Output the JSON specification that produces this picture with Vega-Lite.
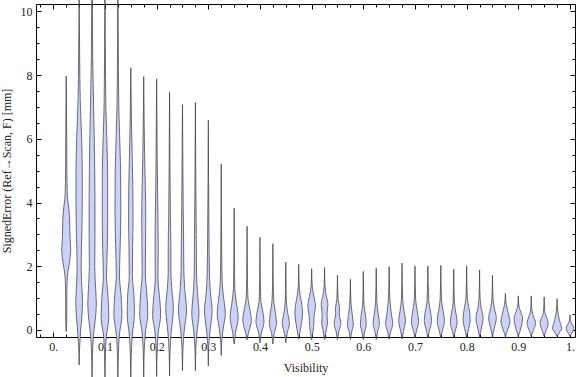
{
"$schema": "https://vega.github.io/schema/vega-lite/v6.json",
"width": 539, "height": 333,
"autosize": "none",
"padding": {"left": 36, "top": 4, "right": 1, "bottom": 40},
"config": {
  "view": {"stroke": "#000", "strokeWidth": 1},
  "axis": {"domain": false, "grid": false, "labelFont": "Liberation Serif", "titleFont": "Liberation Serif", "labelFontSize": 12, "titleFontSize": 12, "labelColor": "#222", "titleColor": "#222", "titleFontWeight": "normal", "tickColor": "#000", "tickWidth": 1, "labelFlush": false, "labelOverlap": false, "labelBound": false}
},
"resolve": {"axis": {"x": "independent", "y": "independent"}},
"layer": [
{
  "data": {"values": [
{"v":0.025,"e":-0.05,"w":0},{"v":0.025,"e":0.3,"w":0.12},{"v":0.025,"e":1.2,"w":0.15},{"v":0.025,"e":1.67,"w":0.25},{"v":0.025,"e":2.1,"w":0.7},{"v":0.025,"e":2.5,"w":1.0},{"v":0.025,"e":2.9,"w":0.85},{"v":0.025,"e":3.5,"w":0.75},{"v":0.025,"e":3.9,"w":0.5},{"v":0.025,"e":4.2,"w":0.25},{"v":0.025,"e":5,"w":0.15},{"v":0.025,"e":6.2,"w":0.1},{"v":0.025,"e":7.97,"w":0},
{"v":0.05,"e":-1.1,"w":0},{"v":0.05,"e":-0.5,"w":0.12},{"v":0.05,"e":0,"w":0.35},{"v":0.05,"e":0.4,"w":0.6},{"v":0.05,"e":0.9,"w":0.75},{"v":0.05,"e":1.5,"w":0.55},{"v":0.05,"e":2.0,"w":0.45},{"v":0.05,"e":3,"w":0.6},{"v":0.05,"e":4,"w":0.7},{"v":0.05,"e":5,"w":0.7},{"v":0.05,"e":6,"w":0.55},{"v":0.05,"e":7.2,"w":0.25},{"v":0.05,"e":8.5,"w":0.12},{"v":0.05,"e":11,"w":0},
{"v":0.075,"e":-1.8,"w":0},{"v":0.075,"e":-0.8,"w":0.1},{"v":0.075,"e":-0.2,"w":0.3},{"v":0.075,"e":0.3,"w":0.7},{"v":0.075,"e":0.8,"w":0.95},{"v":0.075,"e":1.3,"w":0.8},{"v":0.075,"e":2,"w":0.6},{"v":0.075,"e":3,"w":0.65},{"v":0.075,"e":4,"w":0.65},{"v":0.075,"e":5,"w":0.6},{"v":0.075,"e":6,"w":0.5},{"v":0.075,"e":7,"w":0.35},{"v":0.075,"e":8.5,"w":0.15},{"v":0.075,"e":10,"w":0.08},{"v":0.075,"e":12,"w":0},
{"v":0.1,"e":-1.8,"w":0},{"v":0.1,"e":-0.8,"w":0.1},{"v":0.1,"e":-0.2,"w":0.3},{"v":0.1,"e":0.4,"w":0.85},{"v":0.1,"e":1.0,"w":0.7},{"v":0.1,"e":1.7,"w":0.35},{"v":0.1,"e":2.5,"w":0.5},{"v":0.1,"e":3.5,"w":0.6},{"v":0.1,"e":4.8,"w":0.6},{"v":0.1,"e":5.8,"w":0.45},{"v":0.1,"e":7,"w":0.2},{"v":0.1,"e":9,"w":0.08},{"v":0.1,"e":12,"w":0},
{"v":0.125,"e":-1.7,"w":0},{"v":0.125,"e":-0.8,"w":0.1},{"v":0.125,"e":-0.2,"w":0.3},{"v":0.125,"e":0.5,"w":0.9},{"v":0.125,"e":1.1,"w":0.7},{"v":0.125,"e":1.7,"w":0.35},{"v":0.125,"e":2.6,"w":0.5},{"v":0.125,"e":3.8,"w":0.65},{"v":0.125,"e":5.0,"w":0.6},{"v":0.125,"e":6,"w":0.4},{"v":0.125,"e":7,"w":0.2},{"v":0.125,"e":9,"w":0.08},{"v":0.125,"e":11.5,"w":0},
{"v":0.15,"e":-1.6,"w":0},{"v":0.15,"e":-0.8,"w":0.1},{"v":0.15,"e":-0.2,"w":0.3},{"v":0.15,"e":0.5,"w":0.8},{"v":0.15,"e":1.1,"w":0.7},{"v":0.15,"e":1.7,"w":0.35},{"v":0.15,"e":2.6,"w":0.4},{"v":0.15,"e":3.5,"w":0.5},{"v":0.15,"e":4.5,"w":0.45},{"v":0.15,"e":5.5,"w":0.3},{"v":0.15,"e":6.5,"w":0.15},{"v":0.15,"e":8.23,"w":0},
{"v":0.175,"e":-1.5,"w":0},{"v":0.175,"e":-0.7,"w":0.1},{"v":0.175,"e":-0.1,"w":0.35},{"v":0.175,"e":0.5,"w":0.9},{"v":0.175,"e":1.1,"w":0.7},{"v":0.175,"e":1.8,"w":0.35},{"v":0.175,"e":2.6,"w":0.4},{"v":0.175,"e":3.5,"w":0.45},{"v":0.175,"e":4.5,"w":0.35},{"v":0.175,"e":5.5,"w":0.2},{"v":0.175,"e":6.5,"w":0.1},{"v":0.175,"e":7.95,"w":0},
{"v":0.2,"e":-1.46,"w":0},{"v":0.2,"e":-0.7,"w":0.1},{"v":0.2,"e":-0.1,"w":0.35},{"v":0.2,"e":0.5,"w":0.9},{"v":0.2,"e":1.1,"w":0.6},{"v":0.2,"e":1.6,"w":0.3},{"v":0.2,"e":2.5,"w":0.35},{"v":0.2,"e":3.5,"w":0.3},{"v":0.2,"e":4.5,"w":0.2},{"v":0.2,"e":5.5,"w":0.12},{"v":0.2,"e":7.88,"w":0},
{"v":0.225,"e":-1.44,"w":0},{"v":0.225,"e":-0.7,"w":0.1},{"v":0.225,"e":-0.1,"w":0.35},{"v":0.225,"e":0.7,"w":0.85},{"v":0.225,"e":1.3,"w":0.5},{"v":0.225,"e":1.8,"w":0.3},{"v":0.225,"e":2.6,"w":0.3},{"v":0.225,"e":3.5,"w":0.2},{"v":0.225,"e":5,"w":0.1},{"v":0.225,"e":7.46,"w":0},
{"v":0.25,"e":-1.28,"w":0},{"v":0.25,"e":-0.6,"w":0.1},{"v":0.25,"e":0,"w":0.4},{"v":0.25,"e":0.6,"w":0.9},{"v":0.25,"e":1.3,"w":0.5},{"v":0.25,"e":1.9,"w":0.3},{"v":0.25,"e":2.8,"w":0.25},{"v":0.25,"e":4,"w":0.15},{"v":0.25,"e":7.07,"w":0},
{"v":0.275,"e":-1.28,"w":0},{"v":0.275,"e":-0.6,"w":0.1},{"v":0.275,"e":0,"w":0.4},{"v":0.275,"e":0.5,"w":0.8},{"v":0.275,"e":1.2,"w":0.45},{"v":0.275,"e":1.8,"w":0.25},{"v":0.275,"e":3,"w":0.2},{"v":0.275,"e":4.5,"w":0.1},{"v":0.275,"e":7.14,"w":0},
{"v":0.3,"e":-1.13,"w":0},{"v":0.3,"e":-0.5,"w":0.1},{"v":0.3,"e":0,"w":0.4},{"v":0.3,"e":0.6,"w":0.85},{"v":0.3,"e":1.2,"w":0.45},{"v":0.3,"e":1.8,"w":0.25},{"v":0.3,"e":3,"w":0.15},{"v":0.3,"e":6.58,"w":0},
{"v":0.325,"e":-0.8,"w":0},{"v":0.325,"e":-0.3,"w":0.15},{"v":0.325,"e":0.1,"w":0.5},{"v":0.325,"e":0.5,"w":0.9},{"v":0.325,"e":1.0,"w":0.55},{"v":0.325,"e":1.4,"w":0.25},{"v":0.325,"e":2.2,"w":0.12},{"v":0.325,"e":5.21,"w":0},
{"v":0.35,"e":-0.44,"w":0},{"v":0.35,"e":-0.1,"w":0.3},{"v":0.35,"e":0.4,"w":0.9},{"v":0.35,"e":0.9,"w":0.45},{"v":0.35,"e":1.3,"w":0.15},{"v":0.35,"e":2,"w":0.08},{"v":0.35,"e":3.82,"w":0},
{"v":0.375,"e":-0.31,"w":0},{"v":0.375,"e":-0.1,"w":0.3},{"v":0.375,"e":0.3,"w":0.95},{"v":0.375,"e":0.7,"w":0.55},{"v":0.375,"e":1.0,"w":0.2},{"v":0.375,"e":1.6,"w":0.08},{"v":0.375,"e":3.26,"w":0},
{"v":0.4,"e":-0.41,"w":0},{"v":0.4,"e":-0.1,"w":0.3},{"v":0.4,"e":0.26,"w":0.9},{"v":0.4,"e":0.6,"w":0.6},{"v":0.4,"e":0.9,"w":0.2},{"v":0.4,"e":1.5,"w":0.08},{"v":0.4,"e":2.91,"w":0},
{"v":0.425,"e":-0.44,"w":0},{"v":0.425,"e":-0.1,"w":0.3},{"v":0.425,"e":0.21,"w":0.8},{"v":0.425,"e":0.6,"w":0.5},{"v":0.425,"e":0.9,"w":0.2},{"v":0.425,"e":1.5,"w":0.07},{"v":0.425,"e":2.71,"w":0},
{"v":0.45,"e":-0.4,"w":0},{"v":0.45,"e":-0.1,"w":0.3},{"v":0.45,"e":0.2,"w":0.8},{"v":0.45,"e":0.55,"w":0.4},{"v":0.45,"e":0.85,"w":0.15},{"v":0.45,"e":1.3,"w":0.06},{"v":0.45,"e":2.13,"w":0},
{"v":0.475,"e":-0.29,"w":0},{"v":0.475,"e":-0.05,"w":0.3},{"v":0.475,"e":0.2,"w":0.6},{"v":0.475,"e":0.5,"w":0.85},{"v":0.475,"e":0.8,"w":0.7},{"v":0.475,"e":1.1,"w":0.3},{"v":0.475,"e":1.4,"w":0.1},{"v":0.475,"e":2.06,"w":0},
{"v":0.5,"e":-0.31,"w":0},{"v":0.5,"e":-0.05,"w":0.3},{"v":0.5,"e":0.2,"w":0.5},{"v":0.5,"e":0.45,"w":0.55},{"v":0.5,"e":0.75,"w":0.85},{"v":0.5,"e":1.05,"w":0.5},{"v":0.5,"e":1.35,"w":0.15},{"v":0.5,"e":1.92,"w":0},
{"v":0.525,"e":-0.3,"w":0},{"v":0.525,"e":-0.05,"w":0.3},{"v":0.525,"e":0.25,"w":0.65},{"v":0.525,"e":0.5,"w":0.55},{"v":0.525,"e":0.8,"w":0.75},{"v":0.525,"e":1.1,"w":0.35},{"v":0.525,"e":1.4,"w":0.1},{"v":0.525,"e":1.96,"w":0},
{"v":0.55,"e":-0.3,"w":0},{"v":0.55,"e":-0.05,"w":0.3},{"v":0.55,"e":0.21,"w":0.75},{"v":0.55,"e":0.5,"w":0.4},{"v":0.55,"e":0.7,"w":0.45},{"v":0.55,"e":0.95,"w":0.15},{"v":0.55,"e":1.72,"w":0},
{"v":0.575,"e":-0.3,"w":0},{"v":0.575,"e":-0.05,"w":0.3},{"v":0.575,"e":0.16,"w":0.65},{"v":0.575,"e":0.45,"w":0.45},{"v":0.575,"e":0.8,"w":0.15},{"v":0.575,"e":1.59,"w":0},
{"v":0.6,"e":-0.3,"w":0},{"v":0.6,"e":-0.05,"w":0.3},{"v":0.6,"e":0.16,"w":0.65},{"v":0.6,"e":0.5,"w":0.45},{"v":0.6,"e":0.8,"w":0.15},{"v":0.6,"e":1.84,"w":0},
{"v":0.625,"e":-0.3,"w":0},{"v":0.625,"e":-0.05,"w":0.3},{"v":0.625,"e":0.2,"w":0.7},{"v":0.625,"e":0.5,"w":0.45},{"v":0.625,"e":0.85,"w":0.15},{"v":0.625,"e":1.94,"w":0},
{"v":0.65,"e":-0.29,"w":0},{"v":0.65,"e":-0.05,"w":0.35},{"v":0.65,"e":0.2,"w":0.8},{"v":0.65,"e":0.5,"w":0.5},{"v":0.65,"e":0.9,"w":0.2},{"v":0.65,"e":1.3,"w":0.08},{"v":0.65,"e":1.99,"w":0},
{"v":0.675,"e":-0.28,"w":0},{"v":0.675,"e":-0.05,"w":0.3},{"v":0.675,"e":0.3,"w":0.75},{"v":0.675,"e":0.6,"w":0.45},{"v":0.675,"e":0.95,"w":0.15},{"v":0.675,"e":2.1,"w":0},
{"v":0.7,"e":-0.25,"w":0},{"v":0.7,"e":-0.05,"w":0.3},{"v":0.7,"e":0.26,"w":0.8},{"v":0.7,"e":0.6,"w":0.5},{"v":0.7,"e":0.95,"w":0.15},{"v":0.7,"e":2.01,"w":0},
{"v":0.725,"e":-0.25,"w":0},{"v":0.725,"e":-0.05,"w":0.3},{"v":0.725,"e":0.3,"w":0.8},{"v":0.725,"e":0.6,"w":0.55},{"v":0.725,"e":0.9,"w":0.2},{"v":0.725,"e":2.01,"w":0},
{"v":0.75,"e":-0.25,"w":0},{"v":0.75,"e":-0.05,"w":0.3},{"v":0.75,"e":0.28,"w":0.8},{"v":0.75,"e":0.6,"w":0.5},{"v":0.75,"e":0.95,"w":0.15},{"v":0.75,"e":2.03,"w":0},
{"v":0.775,"e":-0.22,"w":0},{"v":0.775,"e":-0.05,"w":0.3},{"v":0.775,"e":0.25,"w":0.75},{"v":0.775,"e":0.55,"w":0.45},{"v":0.775,"e":0.85,"w":0.15},{"v":0.775,"e":1.91,"w":0},
{"v":0.8,"e":-0.22,"w":0},{"v":0.8,"e":-0.05,"w":0.3},{"v":0.8,"e":0.35,"w":0.8},{"v":0.8,"e":0.7,"w":0.5},{"v":0.8,"e":1.0,"w":0.15},{"v":0.8,"e":2.01,"w":0},
{"v":0.825,"e":-0.22,"w":0},{"v":0.825,"e":0,"w":0.3},{"v":0.825,"e":0.37,"w":0.8},{"v":0.825,"e":0.7,"w":0.35},{"v":0.825,"e":1.0,"w":0.12},{"v":0.825,"e":1.88,"w":0},
{"v":0.85,"e":-0.22,"w":0},{"v":0.85,"e":0,"w":0.3},{"v":0.85,"e":0.37,"w":0.85},{"v":0.85,"e":0.7,"w":0.4},{"v":0.85,"e":1.0,"w":0.12},{"v":0.85,"e":1.72,"w":0},
{"v":0.875,"e":-0.21,"w":0},{"v":0.875,"e":-0.05,"w":0.35},{"v":0.875,"e":0.26,"w":1.0},{"v":0.875,"e":0.55,"w":0.6},{"v":0.875,"e":0.8,"w":0.2},{"v":0.875,"e":1.15,"w":0},
{"v":0.9,"e":-0.21,"w":0},{"v":0.9,"e":-0.05,"w":0.35},{"v":0.9,"e":0.37,"w":0.95},{"v":0.9,"e":0.6,"w":0.45},{"v":0.9,"e":0.75,"w":0.15},{"v":0.9,"e":1.07,"w":0},
{"v":0.925,"e":-0.2,"w":0},{"v":0.925,"e":-0.05,"w":0.35},{"v":0.925,"e":0.21,"w":0.95},{"v":0.925,"e":0.45,"w":0.45},{"v":0.925,"e":0.6,"w":0.15},{"v":0.925,"e":1.07,"w":0},
{"v":0.95,"e":-0.2,"w":0},{"v":0.95,"e":-0.05,"w":0.35},{"v":0.95,"e":0.21,"w":0.9},{"v":0.95,"e":0.45,"w":0.4},{"v":0.95,"e":0.55,"w":0.15},{"v":0.95,"e":1.04,"w":0},
{"v":0.975,"e":-0.2,"w":0},{"v":0.975,"e":-0.1,"w":0.4},{"v":0.975,"e":0.05,"w":1.0},{"v":0.975,"e":0.3,"w":0.55},{"v":0.975,"e":0.6,"w":0.15},{"v":0.975,"e":0.98,"w":0},
{"v":1.0,"e":-0.2,"w":0},{"v":1.0,"e":-0.1,"w":0.4},{"v":1.0,"e":0.05,"w":0.85},{"v":1.0,"e":0.2,"w":0.4},{"v":1.0,"e":0.3,"w":0.1},{"v":1.0,"e":0.47,"w":0}
  ]},
  "transform": [
    {"calculate": "datum.v - datum.w * 0.0087", "as": "lo"},
    {"calculate": "datum.v + datum.w * 0.0087", "as": "hi"}
  ],
  "mark": {"type": "area", "orient": "horizontal", "interpolate": "monotone", "fill": "#ccd2f7", "fillOpacity": 1, "stroke": "#3a3a3a", "strokeWidth": 0.9, "strokeOpacity": 0.8},
  "encoding": {
    "y": {"field": "e", "type": "quantitative", "scale": {"domain": [-0.22, 10.23], "nice": false, "zero": false},
          "axis": {"orient": "left", "values": [0,2,4,6,8,10], "ticks": false, "labelPadding": 4, "title": "SignedError (Ref\u2192Scan, F) [mm]", "titlePadding": 7}},
    "x": {"field": "lo", "type": "quantitative", "stack": null, "scale": {"domain": [-0.0335, 1.0097], "nice": false, "zero": false},
          "axis": {"orient": "bottom", "values": [0,0.1,0.2,0.3,0.4,0.5,0.6,0.7,0.8,0.9,1], "ticks": false, "labelPadding": 4, "labelExpr": "datum.value == 0 ? '0.' : datum.value == 1 ? '1.' : format(datum.value, '.1f')", "title": "Visibility", "titlePadding": 10}},
    "x2": {"field": "hi"},
    "detail": {"field": "v", "type": "nominal"}
  }
},
{
  "data": {"values": [{"v": 0, "e": 0}]},
  "mark": {"type": "point", "opacity": 0},
  "encoding": {
    "x": {"field": "v", "type": "quantitative", "scale": {"domain": [-0.0335, 1.0097], "nice": false, "zero": false},
          "axis": {"orient": "bottom", "values": [-0.025,0,0.025,0.05,0.075,0.1,0.125,0.15,0.175,0.2,0.225,0.25,0.275,0.3,0.325,0.35,0.375,0.4,0.425,0.45,0.475,0.5,0.525,0.55,0.575,0.6,0.625,0.65,0.675,0.7,0.725,0.75,0.775,0.8,0.825,0.85,0.875,0.9,0.925,0.95,0.975,1], "labels": false, "tickSize": -3, "title": null}},
    "y": {"field": "e", "type": "quantitative", "scale": {"domain": [-0.22, 10.23], "nice": false, "zero": false},
          "axis": {"orient": "left", "values": [0,0.5,1,1.5,2,2.5,3,3.5,4,4.5,5,5.5,6,6.5,7,7.5,8,8.5,9,9.5,10], "labels": false, "tickSize": -3, "title": null}}
  }
},
{
  "data": {"values": [{"v": 0, "e": 0}]},
  "mark": {"type": "point", "opacity": 0},
  "encoding": {
    "x": {"field": "v", "type": "quantitative", "scale": {"domain": [-0.0335, 1.0097], "nice": false, "zero": false},
          "axis": {"orient": "top", "values": [-0.025,0,0.025,0.05,0.075,0.1,0.125,0.15,0.175,0.2,0.225,0.25,0.275,0.3,0.325,0.35,0.375,0.4,0.425,0.45,0.475,0.5,0.525,0.55,0.575,0.6,0.625,0.65,0.675,0.7,0.725,0.75,0.775,0.8,0.825,0.85,0.875,0.9,0.925,0.95,0.975,1], "labels": false, "tickSize": -3, "title": null}},
    "y": {"field": "e", "type": "quantitative", "scale": {"domain": [-0.22, 10.23], "nice": false, "zero": false},
          "axis": {"orient": "right", "values": [0,0.5,1,1.5,2,2.5,3,3.5,4,4.5,5,5.5,6,6.5,7,7.5,8,8.5,9,9.5,10], "labels": false, "tickSize": -3, "title": null}}
  }
},
{
  "data": {"values": [{"v": 0, "e": 0}]},
  "mark": {"type": "point", "opacity": 0},
  "encoding": {
    "x": {"field": "v", "type": "quantitative", "scale": {"domain": [-0.0335, 1.0097], "nice": false, "zero": false},
          "axis": {"orient": "bottom", "values": [0,0.1,0.2,0.3,0.4,0.5,0.6,0.7,0.8,0.9,1], "labels": false, "tickSize": -5, "title": null}},
    "y": {"field": "e", "type": "quantitative", "scale": {"domain": [-0.22, 10.23], "nice": false, "zero": false},
          "axis": {"orient": "left", "values": [0,2,4,6,8,10], "labels": false, "tickSize": -5, "title": null}}
  }
},
{
  "data": {"values": [{"v": 0, "e": 0}]},
  "mark": {"type": "point", "opacity": 0},
  "encoding": {
    "x": {"field": "v", "type": "quantitative", "scale": {"domain": [-0.0335, 1.0097], "nice": false, "zero": false},
          "axis": {"orient": "top", "values": [0,0.1,0.2,0.3,0.4,0.5,0.6,0.7,0.8,0.9,1], "labels": false, "tickSize": -5, "title": null}},
    "y": {"field": "e", "type": "quantitative", "scale": {"domain": [-0.22, 10.23], "nice": false, "zero": false},
          "axis": {"orient": "right", "values": [0,2,4,6,8,10], "labels": false, "tickSize": -5, "title": null}}
  }
}
]
}
